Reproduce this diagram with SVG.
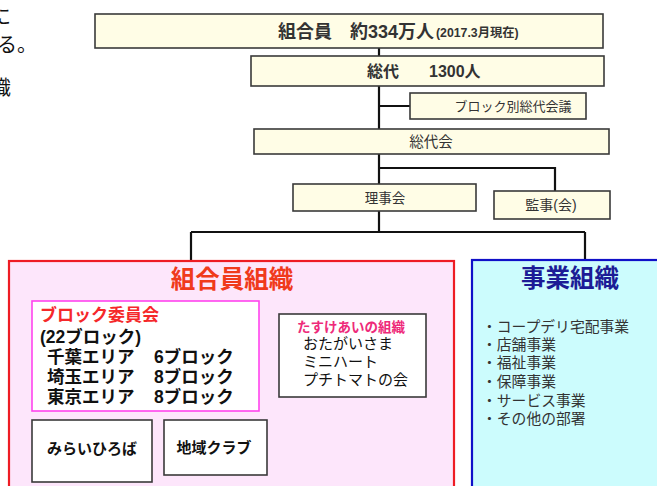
<svg xmlns="http://www.w3.org/2000/svg" width="657" height="486" viewBox="0 0 657 486">
<style>
text{font-family:"Liberation Sans","Noto Sans CJK JP",sans-serif;fill:#333;}
.box{fill:#fffde6;stroke:#3a3a3a;stroke-width:1.6;}
.wbox{fill:#ffffff;stroke:#3a3a3a;stroke-width:1.6;}
.ln{fill:none;stroke:#111;stroke-width:2.2;}
.thin{fill:none;stroke:#333;stroke-width:1.3;}
.b{font-weight:bold;}
.blk{fill:#111;}
</style>
<rect width="657" height="486" fill="#ffffff"/>
<g id="margin-text">
<text x="-9" y="24" font-size="20" class="blk">に</text>
<text x="-3" y="52" font-size="20" class="blk">る。</text>
<text x="-9" y="95" font-size="20" class="blk">織</text>
</g>
<g id="connectors">
<path class="ln" d="M379 48V56M379 86V129M379 106H410M379 154V184M379 168H555V191M379 211V232M191 232H585M191 232V261M585 232V260"/>
<path class="thin" d="M70 411V420M176 411V420"/>
</g>
<g id="n-members">
<rect class="box" x="95" y="14" width="508" height="34"/>
<text x="278" y="38" font-size="18" class="b">組合員　約334万人</text>
<text x="436" y="37" font-size="12.3" class="b">(2017.3月現在)</text>
</g>
<g id="n-sodai">
<rect class="box" x="251" y="56" width="353" height="30"/>
<text x="367" y="77" font-size="16" class="b">総代</text>
<text x="429" y="77" font-size="16" class="b">1300人</text>
</g>
<g id="n-block-sodai">
<rect class="box" x="410" y="93" width="176" height="26"/>
<text x="513" y="111" font-size="13" text-anchor="middle">ブロック別総代会議</text>
</g>
<g id="n-sodaikai">
<rect class="box" x="254" y="129" width="355" height="25"/>
<text x="431" y="147" font-size="14.5" text-anchor="middle">総代会</text>
</g>
<g id="n-rijikai">
<rect class="box" x="293" y="184" width="183" height="27" stroke-width="2.6" stroke="#111"/>
<text x="385" y="203" font-size="13.5" text-anchor="middle">理事会</text>
</g>
<g id="n-kanji">
<rect class="box" x="494" y="191" width="116" height="28"/>
<text x="551" y="210" font-size="14" text-anchor="middle">監事(会)</text>
</g>
<g id="n-member-org">
<rect x="9" y="261" width="445" height="240" fill="#fde6fb" stroke="#ee1c24" stroke-width="2.2"/>
<text x="232" y="288" font-size="24.5" text-anchor="middle" class="b" style="fill:#f03a1c">組合員組織</text>
</g>
<g id="n-business-org">
<rect x="472" y="260" width="200" height="240" fill="#ccfcfd" stroke="#1010c8" stroke-width="2.2"/>
<text x="570" y="287" font-size="24.5" text-anchor="middle" class="b" style="fill:#1c1c96">事業組織</text>
<g font-size="14.8">
<text x="482" y="332">・コープデリ宅配事業</text>
<text x="482" y="350">・店舗事業</text>
<text x="482" y="368">・福祉事業</text>
<text x="482" y="387">・保障事業</text>
<text x="482" y="406">・サービス事業</text>
<text x="482" y="424">・その他の部署</text>
</g>
</g>
<g id="n-block-committee">
<rect x="32" y="301" width="227" height="110" fill="#ffffff" stroke="#ff44ee" stroke-width="1.6"/>
<text x="40" y="321" font-size="17" class="b" style="fill:#f5282a">ブロック委員会</text>
<text x="40" y="343" font-size="17.5" class="b blk">(22ブロック)</text>
<text x="47" y="363" font-size="17.5" class="b blk">千葉エリア</text>
<text x="154" y="363" font-size="17.5" class="b blk">6ブロック</text>
<text x="47" y="383" font-size="17.5" class="b blk">埼玉エリア</text>
<text x="154" y="383" font-size="17.5" class="b blk">8ブロック</text>
<text x="47" y="403" font-size="17.5" class="b blk">東京エリア</text>
<text x="154" y="403" font-size="17.5" class="b blk">8ブロック</text>
</g>
<g id="n-tasukeai">
<rect class="wbox" x="279" y="314" width="147" height="83"/>
<text x="297" y="332" font-size="13.5" class="b" style="fill:#ee2a7a">たすけあいの組織</text>
<text x="303" y="349" font-size="15" class="blk">おたがいさま</text>
<text x="303" y="367" font-size="15" class="blk">ミニハート</text>
<text x="303" y="385" font-size="15" class="blk">プチトマトの会</text>
</g>
<g id="n-mirai">
<rect class="wbox" x="32" y="420" width="120" height="62"/>
<text x="92" y="454" font-size="15" text-anchor="middle" class="b blk">みらいひろば</text>
</g>
<g id="n-chiiki">
<rect class="wbox" x="164" y="420" width="103" height="55"/>
<text x="214" y="453" font-size="15" text-anchor="middle" class="b blk">地域クラブ</text>
</g>
</svg>
